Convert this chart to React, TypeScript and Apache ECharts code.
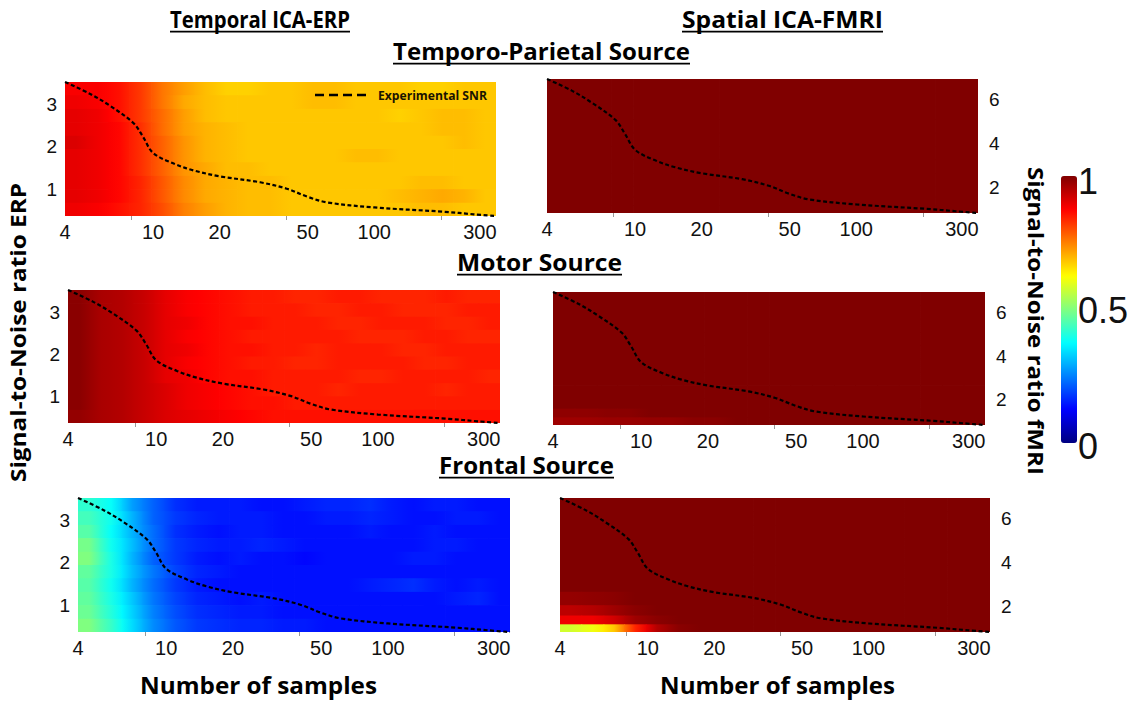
import React, { useEffect, useRef } from "react";
import * as echarts from "echarts";

// ---- data ----
const sampleCenters = [4.5, 5.6, 7, 8.8, 11, 13.7, 17.2, 21.5, 27, 34, 42, 53, 66, 83, 103, 129, 162, 202, 253, 317];
const sampleEdges = [4, 5, 6.3, 7.8, 9.8, 12.3, 15.4, 19.2, 24, 30, 37.7, 47, 59, 74, 92, 116, 145, 181, 227, 284, 355];
const erpSnrEdges = [0.38, 0.69, 1.01, 1.32, 1.64, 1.95, 2.26, 2.58, 2.89, 3.21, 3.52];
const fmriSnrEdges = [0.85, 1.2, 1.6, 2.07, 2.68, 3.29, 3.9, 4.51, 5.12, 5.73, 6.34, 6.95];
const xTickLabels = [4, 10, 20, 50, 100, 300];
const xMinorTicks = [8, 40, 200];
const erpTickLabels = [1, 2, 3];
const fmriTickLabels = [2, 4, 6];
const colorbarLabels = ["1", "0.5", "0"];

const expSamples = [4, 5.2, 6.4, 8.15, 9, 10, 12.4, 15.2, 20, 30.5, 40.2, 50, 61, 100, 206, 282, 355];
const expSnrErp = [3.52, 3.24, 2.96, 2.56, 2.24, 1.86, 1.61, 1.45, 1.31, 1.17, 1.02, 0.83, 0.7, 0.58, 0.48, 0.42, 0.38];
const expSnrFmri = [6.95, 6.41, 5.86, 5.09, 4.46, 3.73, 3.24, 2.93, 2.66, 2.39, 2.09, 1.72, 1.47, 1.24, 1.04, 0.93, 0.85];

// correlation fields, rows listed top (high SNR) to bottom (low SNR)
const tpErpField = [
  [.88,.88,.86,.82,.76,.72,.69,.67,.67,.68,.68,.69,.69,.68,.68,.68,.67,.67,.68,.68],
  [.89,.88,.86,.82,.76,.71,.69,.68,.68,.68,.68,.69,.69,.68,.68,.68,.68,.68,.68,.68],
  [.90,.89,.86,.82,.77,.72,.69,.68,.68,.68,.68,.68,.68,.68,.68,.67,.68,.69,.69,.68],
  [.90,.89,.87,.83,.77,.72,.70,.69,.68,.68,.68,.68,.68,.68,.68,.68,.68,.69,.69,.68],
  [.91,.89,.87,.83,.78,.73,.70,.69,.68,.68,.68,.68,.68,.68,.68,.68,.68,.68,.69,.68],
  [.90,.89,.87,.83,.78,.73,.70,.69,.68,.68,.68,.68,.68,.69,.69,.68,.68,.68,.68,.68],
  [.90,.89,.87,.83,.78,.73,.71,.69,.69,.68,.68,.68,.68,.68,.68,.68,.68,.68,.68,.68],
  [.90,.89,.87,.84,.79,.74,.71,.70,.69,.69,.68,.68,.68,.68,.68,.68,.69,.69,.68,.68],
  [.90,.89,.87,.84,.79,.74,.71,.70,.69,.69,.68,.68,.68,.68,.68,.69,.70,.71,.70,.68],
  [.89,.88,.86,.84,.80,.75,.72,.70,.69,.69,.68,.68,.68,.68,.68,.68,.69,.69,.68,.68],
];
const motorErpField = [
  [.99,.96,.95,.93,.90,.88,.87,.86,.85,.85,.84,.84,.85,.85,.84,.84,.84,.85,.84,.84],
  [.99,.96,.95,.93,.90,.88,.87,.86,.85,.85,.85,.84,.84,.85,.85,.84,.84,.84,.85,.85],
  [.99,.96,.95,.93,.90,.89,.87,.86,.86,.85,.85,.85,.84,.84,.85,.85,.85,.84,.84,.85],
  [.99,.96,.95,.93,.90,.88,.87,.86,.85,.85,.85,.85,.85,.84,.84,.84,.85,.85,.84,.84],
  [.99,.96,.95,.93,.90,.89,.87,.86,.86,.85,.85,.84,.85,.85,.85,.84,.84,.85,.85,.85],
  [.99,.96,.95,.93,.90,.88,.87,.86,.85,.85,.84,.84,.85,.85,.85,.85,.84,.84,.85,.85],
  [.99,.96,.95,.93,.90,.89,.87,.86,.86,.85,.85,.85,.85,.84,.84,.85,.85,.85,.85,.84],
  [.99,.96,.95,.93,.91,.89,.88,.87,.86,.85,.85,.85,.84,.85,.85,.85,.85,.84,.85,.85],
  [.99,.96,.95,.93,.91,.89,.88,.87,.86,.86,.85,.85,.85,.85,.85,.85,.85,.85,.85,.85],
  [.98,.96,.95,.93,.91,.90,.89,.88,.87,.86,.86,.86,.86,.86,.86,.86,.86,.86,.86,.86],
];
const frontalErpField = [
  [.42,.38,.28,.22,.17,.15,.15,.15,.14,.14,.15,.16,.16,.17,.15,.14,.15,.15,.14,.14],
  [.44,.39,.30,.22,.18,.16,.15,.15,.15,.14,.14,.15,.15,.16,.15,.14,.14,.15,.15,.14],
  [.46,.38,.30,.23,.17,.15,.14,.15,.15,.14,.14,.14,.14,.15,.14,.14,.15,.14,.14,.14],
  [.49,.39,.31,.23,.18,.16,.15,.15,.16,.15,.14,.14,.14,.14,.14,.14,.15,.15,.14,.14],
  [.50,.40,.30,.22,.18,.15,.14,.15,.14,.14,.13,.14,.14,.14,.14,.15,.15,.14,.14,.14],
  [.47,.40,.31,.24,.19,.16,.15,.14,.14,.14,.14,.14,.14,.14,.14,.14,.14,.14,.14,.14],
  [.46,.39,.30,.23,.18,.15,.14,.14,.14,.14,.14,.14,.14,.15,.16,.17,.15,.14,.15,.14],
  [.47,.40,.32,.24,.19,.16,.15,.14,.15,.14,.14,.14,.14,.14,.14,.14,.14,.15,.16,.14],
  [.48,.41,.33,.25,.20,.17,.16,.15,.15,.14,.14,.14,.14,.14,.14,.14,.14,.14,.14,.14],
  [.50,.43,.34,.26,.21,.18,.17,.16,.16,.15,.15,.14,.14,.14,.14,.14,.14,.14,.14,.14],
];
const tpFmriField = [
  [1,1,1,1,1,1,1,1,1,1,1,1,1,1,1,1,1,1,1,1],
  [1,1,1,1,1,1,1,1,1,1,1,1,1,1,1,1,1,1,1,1],
  [1,1,1,1,1,1,1,1,1,1,1,1,1,1,1,1,1,1,1,1],
  [1,1,1,1,1,1,1,1,1,1,1,1,1,1,1,1,1,1,1,1],
  [1,1,1,1,1,1,1,1,1,1,1,1,1,1,1,1,1,1,1,1],
  [1,1,1,1,1,1,1,1,1,1,1,1,1,1,1,1,1,1,1,1],
  [1,1,1,1,1,1,1,1,1,1,1,1,1,1,1,1,1,1,1,1],
  [1,1,1,1,1,1,1,1,1,1,1,1,1,1,1,1,1,1,1,1],
  [1,1,1,1,1,1,1,1,1,1,1,1,1,1,1,1,1,1,1,1],
  [1,1,1,1,1,1,1,1,1,1,1,1,1,1,1,1,1,1,1,1],
  [1,1,1,1,1,1,1,1,1,1,1,1,1,1,1,1,1,1,1,1],
];
const motorFmriField = [
  [1,1,1,1,1,1,1,1,1,1,1,1,1,1,1,1,1,1,1,1],
  [1,1,1,1,1,1,1,1,1,1,1,1,1,1,1,1,1,1,1,1],
  [1,1,1,1,1,1,1,1,1,1,1,1,1,1,1,1,1,1,1,1],
  [1,1,1,1,1,1,1,1,1,1,1,1,1,1,1,1,1,1,1,1],
  [1,1,1,1,1,1,1,1,1,1,1,1,1,1,1,1,1,1,1,1],
  [1,1,1,1,1,1,1,1,1,1,1,1,1,1,1,1,1,1,1,1],
  [1,1,1,1,1,1,1,1,1,1,1,1,1,1,1,1,1,1,1,1],
  [1,1,1,1,1,1,1,1,1,1,1,1,1,1,1,1,1,1,1,1],
  [1,1,1,1,1,1,1,1,1,1,1,1,1,1,1,1,1,1,1,1],
  [.985,.985,.99,.99,1,1,1,1,1,1,1,1,1,1,1,1,1,1,1,1],
  [.97,.97,.975,.975,.98,.98,.99,.99,1,1,1,1,1,1,1,1,1,1,1,1],
];
const frontalFmriField = [
  [1,1,1,1,1,1,1,1,1,1,1,1,1,1,1,1,1,1,1,1],
  [1,1,1,1,1,1,1,1,1,1,1,1,1,1,1,1,1,1,1,1],
  [1,1,1,1,1,1,1,1,1,1,1,1,1,1,1,1,1,1,1,1],
  [1,1,1,1,1,1,1,1,1,1,1,1,1,1,1,1,1,1,1,1],
  [1,1,1,1,1,1,1,1,1,1,1,1,1,1,1,1,1,1,1,1],
  [1,1,1,1,1,1,1,1,1,1,1,1,1,1,1,1,1,1,1,1],
  [1,1,1,1,1,1,1,1,1,1,1,1,1,1,1,1,1,1,1,1],
  [.98,.985,.99,1,1,1,1,1,1,1,1,1,1,1,1,1,1,1,1,1],
  [.94,.95,.97,.99,1,1,1,1,1,1,1,1,1,1,1,1,1,1,1,1],
  [.89,.89,.92,.97,.99,1,1,1,1,1,1,1,1,1,1,1,1,1,1,1],
  [.58,.61,.68,.84,.95,.99,1,1,1,1,1,1,1,1,1,1,1,1,1,1],
];

const jet = ["#000080", "#0000ff", "#0080ff", "#00ffff", "#80ff80", "#ffff00", "#ff8000", "#ff0000", "#800000"];

const TITLE_FONT = '"Open Sans", "Noto Sans", sans-serif';
const NUM_FONT = '"Liberation Sans", Arial, sans-serif';

function measure(text: string, weight: string, size: number, family: string) {
  const ctx = document.createElement("canvas").getContext("2d");
  if (!ctx) return text.length * size * 0.55;
  ctx.font = `${weight} ${size}px ${family}`;
  return ctx.measureText(text).width;
}

export default function App() {
  const ref = useRef<HTMLDivElement>(null);
  useEffect(() => {
    if (!ref.current) return;
    const chart = echarts.init(ref.current, null, { renderer: "svg" });
    const colorOf = (v: number) => echarts.color.lerp(Math.max(0, Math.min(1, v)), jet) as string;

    const panels = [
      { box: { left: 65, top: 82, width: 431, height: 134 }, field: tpErpField, yEdges: erpSnrEdges, fmri: false },
      { box: { left: 547, top: 79, width: 431, height: 134 }, field: tpFmriField, yEdges: fmriSnrEdges, fmri: true },
      { box: { left: 68, top: 290, width: 432, height: 133 }, field: motorErpField, yEdges: erpSnrEdges, fmri: false },
      { box: { left: 553, top: 292, width: 432, height: 133 }, field: motorFmriField, yEdges: fmriSnrEdges, fmri: true },
      { box: { left: 78, top: 498, width: 432, height: 134 }, field: frontalErpField, yEdges: erpSnrEdges, fmri: false },
      { box: { left: 560, top: 498, width: 430, height: 134 }, field: frontalFmriField, yEdges: fmriSnrEdges, fmri: true },
    ];

    const grids: any[] = [];
    const xAxes: any[] = [];
    const yAxes: any[] = [];
    const series: any[] = [];
    panels.forEach((p, gi) => {
      grids.push({ ...p.box, containLabel: false });
      xAxes.push({
        type: "log",
        logBase: 10,
        gridIndex: gi,
        min: sampleEdges[0],
        max: sampleEdges[sampleEdges.length - 1],
        axisLine: { show: false },
        splitLine: { show: false },
        axisTick: { show: true, customValues: xMinorTicks, length: 4, lineStyle: { color: "#999" } },
        axisLabel: { customValues: xTickLabels, fontSize: 20, margin: 6, color: "#111", fontFamily: NUM_FONT },
      });
      const ye = p.yEdges;
      yAxes.push({
        type: "value",
        gridIndex: gi,
        position: p.fmri ? "right" : "left",
        min: ye[0],
        max: ye[ye.length - 1],
        axisLine: { show: false },
        splitLine: { show: false },
        axisTick: { show: false },
        axisLabel: {
          customValues: p.fmri ? fmriTickLabels : erpTickLabels,
          fontSize: 19,
          margin: p.fmri ? 11 : 8,
          color: "#111",
          fontFamily: NUM_FONT,
        },
      });
      const nRows = p.field.length;
      const field = p.field;
      const data: number[][] = [];
      field.forEach((row, k) => {
        const r = nRows - 1 - k;
        row.forEach((v, i) => {
          data.push([sampleCenters[i], (ye[r] + ye[r + 1]) / 2, v, i, r]);
        });
      });
      series.push({
        type: "custom",
        xAxisIndex: gi,
        yAxisIndex: gi,
        data,
        encode: { x: 0, y: 1 },
        clip: true,
        silent: true,
        renderItem: (params: any, api: any) => {
          const i = api.value(3);
          const r = api.value(4);
          const row = field[nRows - 1 - r];
          const v = row[i];
          const vl = i > 0 ? row[i - 1] : v;
          const vr = i < row.length - 1 ? row[i + 1] : v;
          const p0 = api.coord([sampleEdges[i], ye[r + 1]]);
          const p1 = api.coord([sampleEdges[i + 1], ye[r]]);
          return {
            type: "rect",
            shape: { x: p0[0], y: p0[1], width: p1[0] - p0[0] + 0.8, height: p1[1] - p0[1] + 0.8 },
            style: {
              fill: {
                type: "linear",
                x: 0,
                y: 0,
                x2: 1,
                y2: 0,
                colorStops: [
                  { offset: 0, color: colorOf((v + vl) / 2) },
                  { offset: 0.5, color: api.visual("color") },
                  { offset: 1, color: colorOf((v + vr) / 2) },
                ],
              },
            },
          };
        },
      });
      const ys = p.fmri ? expSnrFmri : expSnrErp;
      series.push({
        type: "line",
        xAxisIndex: gi,
        yAxisIndex: gi,
        data: expSamples.map((x, k) => [x, ys[k]]),
        smooth: 0.35,
        symbol: "none",
        silent: true,
        z: 5,
        lineStyle: { color: "#000", width: 2.2, type: [4, 2.5] },
      });
    });

    const graphic: any[] = [];
    const addText = (
      text: string,
      cx: number,
      cy: number,
      width: number,
      fs: number,
      opts: { underline?: boolean; rotation?: number; align?: string; fill?: string } = {}
    ) => {
      const w = measure(text, "bold", fs, TITLE_FONT);
      const sx = width / w;
      graphic.push({
        type: "text",
        x: cx,
        y: cy,
        rotation: opts.rotation || 0,
        scaleX: sx,
        z: 10,
        style: {
          text,
          font: `bold ${fs}px ${TITLE_FONT}`,
          lineHeight: fs,
          fill: opts.fill || "#000",
          align: opts.align || "center",
          verticalAlign: "middle",
        },
      });
      if (opts.underline) {
        const uy = cy + fs * 0.55;
        graphic.push({
          type: "line",
          shape: { x1: cx - width / 2, y1: uy, x2: cx + width / 2, y2: uy },
          style: { stroke: "#000", lineWidth: 1.8 },
        });
      }
    };
    addText("Temporal ICA-ERP", 260, 19, 180, 23, { underline: true });
    addText("Spatial ICA-FMRI", 782.5, 19, 201, 23, { underline: true });
    addText("Temporo-Parietal Source", 541.5, 51, 297, 23, { underline: true });
    addText("Motor Source", 539.5, 262, 165, 23, { underline: true });
    addText("Frontal Source", 526.5, 465, 175, 23, { underline: true });
    addText("Number of samples", 258.5, 685, 237, 24);
    addText("Number of samples", 777.5, 685, 235, 24);
    addText("Signal-to-Noise ratio ERP", 17, 332.5, 299, 22, { rotation: Math.PI / 2 });
    addText("Signal-to-Noise ratio fMRI", 1037, 321, 308, 22, { rotation: -Math.PI / 2 });

    // legend in first panel
    graphic.push({
      type: "line",
      shape: { x1: 315, y1: 95, x2: 368, y2: 95 },
      style: { stroke: "#000", lineWidth: 2.5, lineDash: [9, 5] },
      z: 10,
    });
    addText("Experimental SNR", 378, 95, 109, 12.5, { align: "left", fill: "#1a1400" });

    // colorbar labels
    const cbY = [181, 310, 446];
    colorbarLabels.forEach((t, k) => {
      graphic.push({
        type: "text",
        x: 1078,
        y: cbY[k],
        style: { text: t, font: `36px ${NUM_FONT}`, fill: "#111", align: "left", verticalAlign: "middle" },
      });
    });

    chart.setOption({
      animation: false,
      backgroundColor: "#fff",
      grid: grids,
      xAxis: xAxes,
      yAxis: yAxes,
      series,
      visualMap: {
        type: "continuous",
        min: 0,
        max: 1,
        dimension: 2,
        seriesIndex: [0, 2, 4, 6, 8, 10],
        calculable: false,
        hoverLink: false,
        left: 1061,
        top: 176,
        padding: 0,
        itemWidth: 16,
        itemHeight: 267,
        inRange: { color: jet },
      },
      graphic,
    });
    return () => chart.dispose();
  }, []);
  return <div ref={ref} style={{ position: "fixed", left: 0, top: 0, width: 1146, height: 702, background: "#fff" }} />;
}
